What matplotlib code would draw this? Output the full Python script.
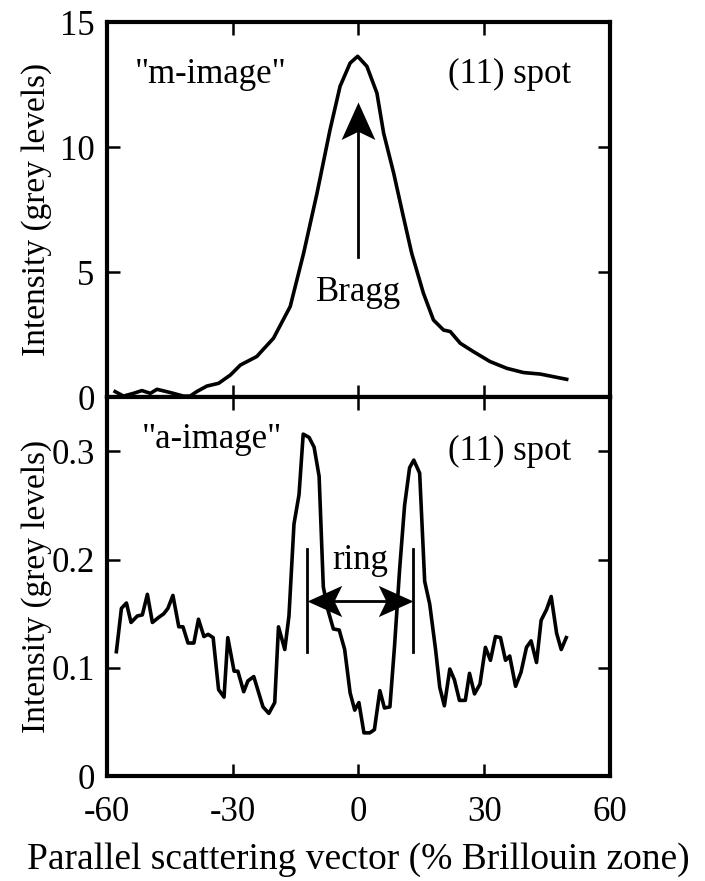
import numpy as np
import matplotlib
matplotlib.use("Agg")
import matplotlib.pyplot as plt
from matplotlib.path import Path

# m-image (11) spot profile
m_x = [-58.1, -56.1, -53.7, -51.7, -49.7, -48.1, -44.9, -41.8, -40.2, -38.6,
       -36.2, -33.4, -30.6, -28.2, -24.3, -20.3, -16.3, -13.1, -9.9, -6.8,
       -4.4, -2.0, -0.2, 2.0, 4.4, 6.0, 8.4, 10.7, 12.7, 15.5,
       17.9, 20.3, 21.9, 24.3, 27.4, 31.4, 35.4, 39.4, 43.4, 49.7]
m_y = [0.23, 0.05, 0.16, 0.27, 0.16, 0.32, 0.19, 0.05, 0.05, 0.23,
       0.45, 0.56, 0.89, 1.29, 1.63, 2.36, 3.63, 5.76, 8.16, 10.69,
       12.43, 13.36, 13.63, 13.23, 12.16, 10.56, 8.96, 7.23, 5.76, 4.16,
       3.09, 2.69, 2.63, 2.16, 1.83, 1.43, 1.16, 0.99, 0.93, 0.72]

# a-image (11) spot profile
a_x = [-57.8, -56.6, -55.4, -54.3, -52.8, -51.6, -50.4, -49.2, -47.6, -46.5,
       -45.5, -44.3, -42.9, -41.9, -40.7, -39.3, -38.2, -36.9, -35.9, -34.7,
       -33.4, -32.1, -31.2, -29.7, -28.8, -27.4, -26.4, -25.0, -22.8, -21.4,
       -20.0, -19.1, -17.6, -16.6, -15.4, -14.2, -13.2, -11.8, -10.6, -9.4,
       -8.4, -7.4, -6.0, -4.6, -3.3, -2.0, -0.9, 0.1, 1.3, 2.7,
       3.8, 5.1, 6.2, 7.5, 8.6, 9.8, 11.0, 12.2, 13.2, 14.6,
       15.8, 17.0, 18.4, 19.4, 20.5, 21.8, 22.9, 24.1, 25.5, 26.5,
       27.7, 29.0, 30.3, 31.5, 32.7, 33.9, 35.1, 36.1, 37.5, 38.8,
       40.1, 41.2, 42.5, 43.6, 44.9, 46.0, 47.3, 48.4, 49.6]
a_y = [0.115, 0.155, 0.160, 0.142, 0.148, 0.149, 0.168, 0.142, 0.147, 0.150,
       0.155, 0.167, 0.138, 0.138, 0.123, 0.123, 0.145, 0.129, 0.131, 0.128,
       0.080, 0.073, 0.128, 0.097, 0.097, 0.078, 0.088, 0.092, 0.064, 0.058,
       0.068, 0.138, 0.117, 0.148, 0.233, 0.260, 0.316, 0.313, 0.304, 0.277,
       0.175, 0.155, 0.136, 0.135, 0.117, 0.077, 0.061, 0.068, 0.040, 0.040,
       0.043, 0.079, 0.063, 0.064, 0.120, 0.190, 0.250, 0.285, 0.292, 0.280,
       0.180, 0.159, 0.117, 0.082, 0.065, 0.099, 0.089, 0.070, 0.070, 0.095,
       0.076, 0.085, 0.119, 0.107, 0.129, 0.128, 0.107, 0.111, 0.083, 0.096,
       0.119, 0.125, 0.105, 0.144, 0.154, 0.166, 0.132, 0.117, 0.128]

x_ticks = [-60, -30, 0, 30, 60]
top_yticks = [0, 5, 10, 15]
bot_yticks = [0, 0.1, 0.2, 0.3]
top_yticklabels = ["0", "5", "10", "15"]
bot_yticklabels = ["0", "0.1", "0.2", "0.3"]

# annotation anchors
bragg_x, bragg_tail, bragg_tip = 0, 5.6, 11.8
ring_left, ring_right, ring_y = -12.3, 13.0, 0.162
ring_bar_lo, ring_bar_hi = 0.115, 0.210

plt.rcParams['font.family'] = ['Liberation Serif', 'DejaVu Serif']
plt.rcParams['axes.unicode_minus'] = False
FS = 25
LW_AX = 3.0


def stealth(angle_deg):
    # swept-back arrow head, tip at origin, pointing along angle_deg
    verts = np.array([(0, 0), (-1.0, 0.45), (-0.78, 0), (-1.0, -0.45), (0, 0)])
    a = np.deg2rad(angle_deg)
    rot = np.array([[np.cos(a), -np.sin(a)], [np.sin(a), np.cos(a)]])
    verts = verts @ rot.T
    codes = [Path.MOVETO, Path.LINETO, Path.LINETO, Path.LINETO, Path.CLOSEPOLY]
    return Path(verts, codes)


def style_axes(ax):
    for s in ax.spines.values():
        s.set_linewidth(LW_AX)
    ax.tick_params(direction='in', length=9, width=1.8, top=True, right=True,
                   labelsize=FS, pad=9)
    ax.tick_params(axis='x', pad=14)
    ax.set_xlim(-60, 60)
    ax.set_xticks(x_ticks)


fig = plt.figure(figsize=(7.05, 8.81), dpi=100)
left, width = 0.152, 0.713
ax1 = fig.add_axes([left, 0.549, width, 0.426])
ax2 = fig.add_axes([left, 0.119, width, 0.430])

# top panel
ax1.plot(m_x, m_y, color='black', lw=2.6)
style_axes(ax1)
ax1.set_ylim(0, 15)
ax1.set_yticks(top_yticks)
ax1.set_yticklabels(top_yticklabels)
ax1.tick_params(labelbottom=False)
ax1.set_ylabel("Intensity (grey levels)", fontsize=24)
ax1.text(-53.3, 12.9, '"m-image"', fontsize=FS, ha='left', va='center')
ax1.text(50.9, 12.9, '(11) spot', fontsize=FS, ha='right', va='center')
ax1.plot([bragg_x, bragg_x], [bragg_tail, bragg_tip - 1.0], color='black', lw=2)
ax1.plot(bragg_x, bragg_tip, marker=stealth(90), markersize=54, color='black',
         markeredgewidth=0)
ax1.text(bragg_x, 4.2, 'Bragg', fontsize=FS, ha='center', va='center')

# bottom panel
ax2.plot(a_x, a_y, color='black', lw=2.6)
style_axes(ax2)
ax2.set_ylim(0, 0.35)
ax2.set_yticks(bot_yticks)
ax2.set_yticklabels(bot_yticklabels)
ax2.set_ylabel("Intensity (grey levels)", fontsize=24)
ax2.set_xlabel("Parallel scattering vector (% Brillouin zone)", fontsize=27, labelpad=10)
ax2.text(-51.7, 0.311, '"a-image"', fontsize=FS, ha='left', va='center')
ax2.text(50.9, 0.30, '(11) spot', fontsize=FS, ha='right', va='center')
ax2.text((ring_left + ring_right) / 2, 0.199, 'ring', fontsize=FS, ha='center', va='center')
for xb in (ring_left, ring_right):
    ax2.plot([xb, xb], [ring_bar_lo, ring_bar_hi], color='black', lw=2)
ax2.plot([ring_left + 2, ring_right - 2], [ring_y, ring_y], color='black', lw=2)
ax2.plot(ring_left, ring_y, marker=stealth(180), markersize=50, color='black',
         markeredgewidth=0)
ax2.plot(ring_right, ring_y, marker=stealth(0), markersize=50, color='black',
         markeredgewidth=0)

ax1.yaxis.set_label_coords(-0.11, 0.5)
ax2.yaxis.set_label_coords(-0.11, 0.5)

fig.savefig("out.png", dpi=100)
